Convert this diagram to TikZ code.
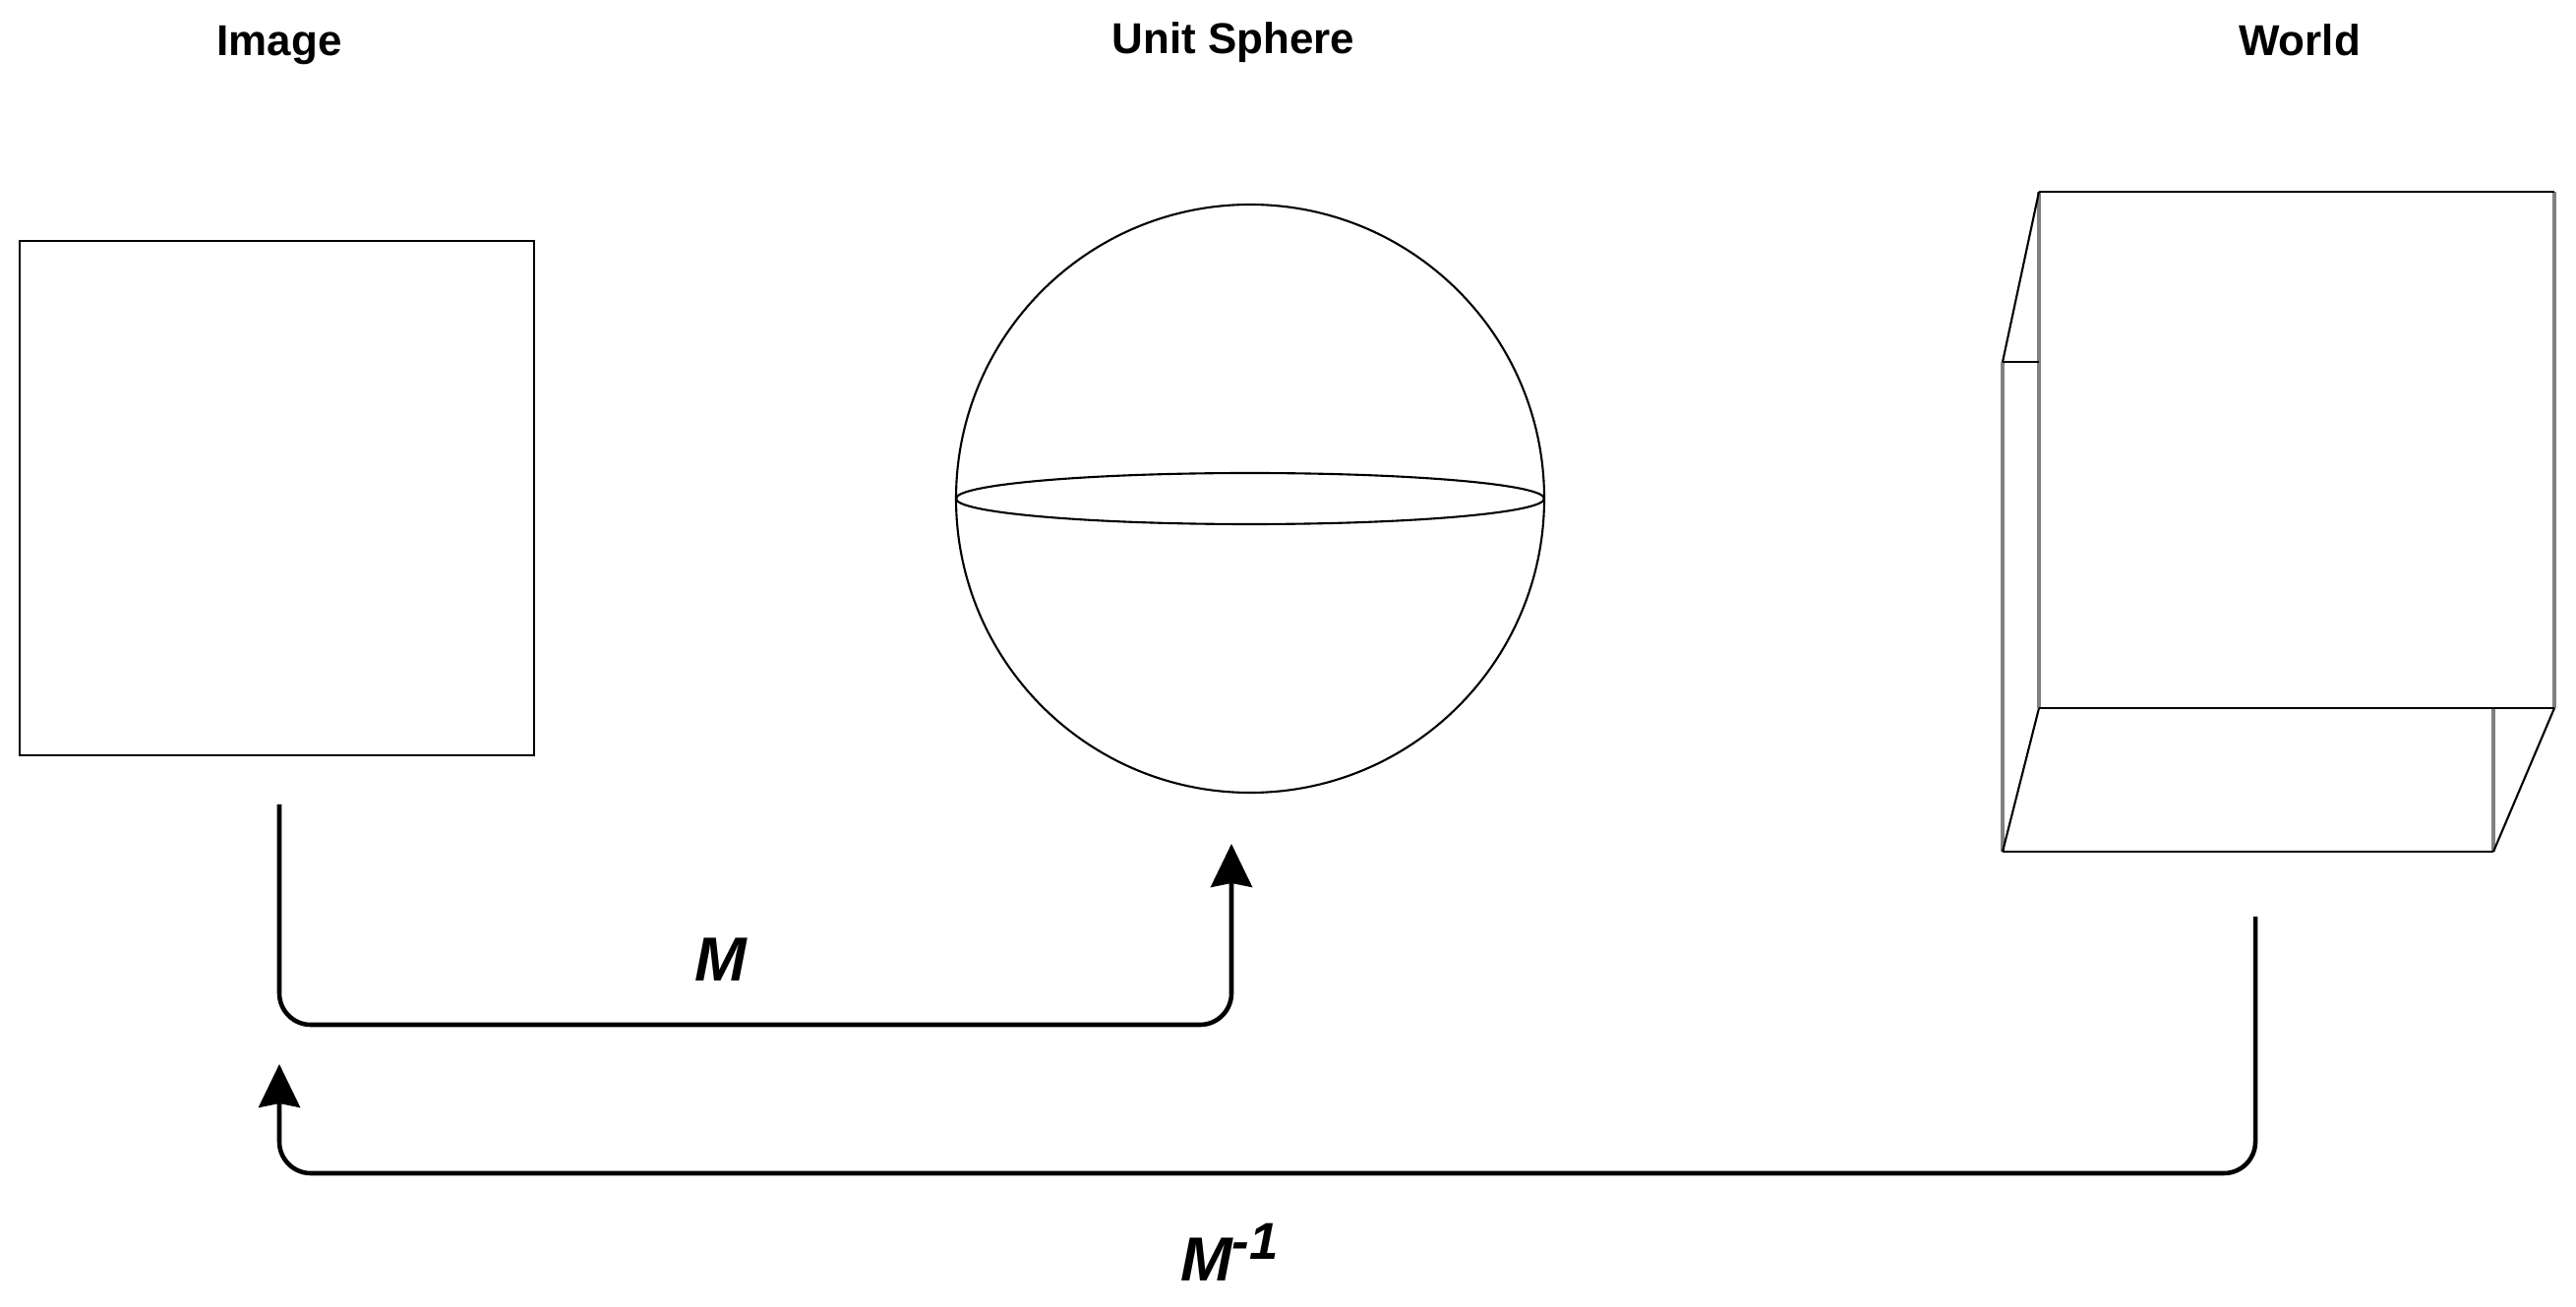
\documentclass[tikz,border=0pt]{standalone}
\usepackage{fontspec}
\setmainfont{Liberation Sans}
\usepackage{tikz}
\usetikzlibrary{arrows.meta}
\tikzset{
    title/.style={anchor=base, font=\fontsize{12.5}{15}\selectfont\bfseries},
    maplabel/.style={anchor=base, font=\fontsize{18}{20}\selectfont\bfseries\itshape},
    outline/.style={draw, line width=0.6pt},
    flow/.style={line width=1.3pt, rounded corners=0.32cm, -{Stealth[length=0.44cm, width=0.42cm, inset=0.04cm]}},
    faceedge/.style={line width=0.6pt},
    sideedge/.style={line width=1.3pt, gray}
}

\begin{document}
\begin{tikzpicture}
            \useasboundingbox (0, 0) rectangle (26.19, -13.29);

            % titles
            \node[title] (imagetitle) at (2.84, -0.57) {Image};
            \node[title] (spheretitle) at (12.54, -0.55) {Unit Sphere};
            \node[title] (worldtitle) at (23.38, -0.57) {World};

            % image plane
            \node[outline, minimum width=5.23cm, minimum height=5.23cm, inner sep=0] (image) at (2.815, -5.065) {};

            % unit sphere
            \node[outline, circle, minimum size=5.98cm, inner sep=0] (sphere) at (12.71, -5.07) {};
            \draw[faceedge] (sphere.center) ellipse (2.99 and 0.26);

            % world cube
            \coordinate (ftl) at (20.73, -1.95);
            \coordinate (ftr) at (25.97, -1.95);
            \coordinate (fbl) at (20.73, -7.20);
            \coordinate (fbr) at (25.97, -7.20);
            \coordinate (btl) at (20.36, -3.68);
            \coordinate (bbl) at (20.36, -8.66);
            \coordinate (bbr) at (25.35, -8.66);
            \draw[sideedge] (ftl) -- (fbl);
            \draw[sideedge] (ftr) -- (fbr);
            \draw[sideedge] (btl) -- (bbl);
            \draw[sideedge] (bbr) -- (25.35, -7.20);
            \draw[faceedge] (ftl) -- (ftr);
            \draw[faceedge] (fbl) -- (fbr);
            \draw[faceedge] (btl) -- (20.73, -3.68);
            \draw[faceedge] (bbl) -- (bbr);
            \draw[faceedge] (ftl) -- (btl);
            \draw[faceedge] (fbl) -- (bbl);
            \draw[faceedge] (fbr) -- (bbr);

            % mappings
            \coordinate (mstart) at (2.84, -8.18);
            \coordinate (mlow) at (7.00, -10.42);
            \coordinate (mend) at (12.52, -8.58);
            \draw[flow] (mstart) |- (mlow) -| (mend);
            \node[maplabel] (mlabel) at (7.33, -9.97) {M};

            \coordinate (invstart) at (22.93, -9.32);
            \coordinate (invlow) at (13.00, -11.93);
            \coordinate (invend) at (2.84, -10.82);
            \draw[flow] (invstart) |- (invlow) -| (invend);
            \node[maplabel] (invlabel) at (12.50, -13.02) {M\raisebox{6pt}{\fontsize{15}{15}\selectfont -1}};
        \end{tikzpicture}
\end{document}
